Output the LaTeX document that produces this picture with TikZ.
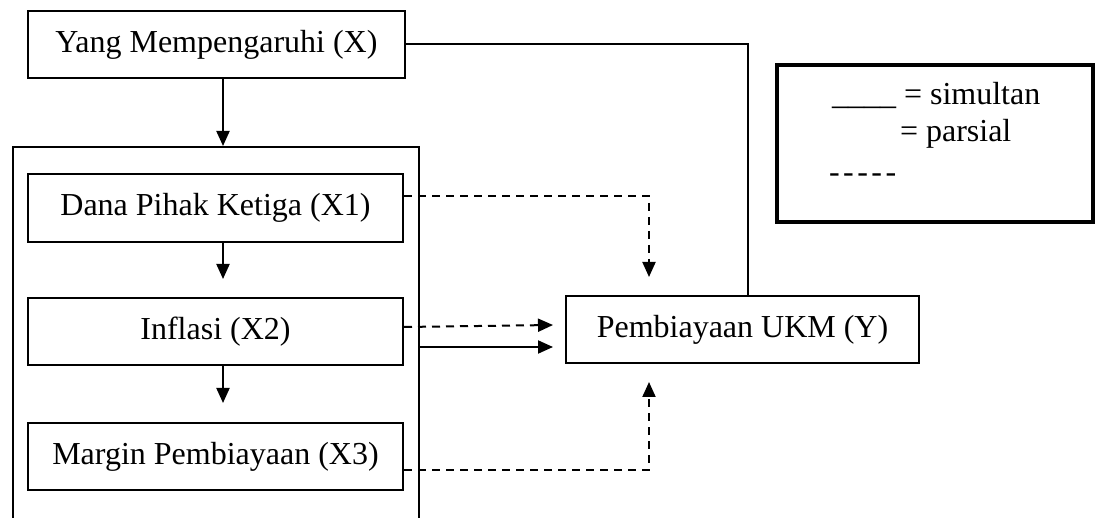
\documentclass[tikz,border=0pt]{standalone}
\usepackage{fontspec}
\setmainfont{Liberation Serif}
\usetikzlibrary{positioning,arrows.meta}
\newcommand{\bigtxt}{\fontsize{32pt}{38.4pt}\selectfont}

\begin{document}
\begin{tikzpicture}[x=1pt,y=-1pt,line width=2pt,>={Triangle[length=15pt,width=13pt]},
        varbox/.style={draw,minimum width=375pt,minimum height=67pt,inner sep=0pt,font=\bigtxt},
        legtxt/.style={anchor=base west,inner sep=0pt,font=\bigtxt},
        dsh/.style={dash pattern=on 8pt off 6pt}]
        \useasboundingbox (0,0) rectangle (1101,518);
        \node[varbox,minimum width=377pt] (topx) at (216.5,44.5) {Yang Mempengaruhi (X)};
        \node[draw,minimum width=406pt,minimum height=375pt,inner sep=0pt] (grp) at (216,334.5) {};
        \node[varbox,minimum height=68pt] (dpk) at (215.5,208) {Dana Pihak Ketiga (X1)};
        \node[varbox,below=54pt of dpk] (inf) {Inflasi (X2)};
        \node[varbox,below=56pt of inf] (mrg) {Margin Pembiayaan (X3)};
        \node[varbox,minimum width=353pt] (pby) at (742.5,329.5) {Pembiayaan UKM (Y)};
        % keterangan
        \node[draw,line width=4pt,minimum width=316pt,minimum height=157pt,inner sep=0pt] (legend) at (935,143.5) {};
        \node[legtxt] (simul) at (831,105) {\_\_\_\_ = simultan};
        \node[legtxt] (pars) at (899,142) {= parsial};
        \node[legtxt] (dashes) at (828,183) {-\kern3.5pt-\kern3.5pt-\kern3.5pt-\kern3.5pt-};
        \coordinate (xdrop) at ([xshift=6.5pt]topx.south);
        \coordinate (solidend) at ([xshift=-12pt,yshift=-17.5pt]pby.west);
        \draw[->] (xdrop) -- (xdrop |- grp.north);
        \draw[->,shorten >=18pt] ([xshift=7.5pt]dpk.south) -- ([xshift=7.5pt]inf.north);
        \draw[->,shorten >=19pt] ([xshift=7.5pt]inf.south) -- ([xshift=7.5pt]mrg.north);
        \draw (topx.east) -| ([xshift=5.5pt]pby.north);
        \draw[dsh,->] ([yshift=12pt]dpk.east) -| ([xshift=-93.5pt,yshift=18pt]pby.north);
        \draw[dsh,->] ([yshift=4.5pt]inf.east) -- ([xshift=-12pt,yshift=4.5pt]pby.west);
        \draw[->] (solidend -| grp.east) -- (solidend);
        \draw[dsh,->] ([yshift=-13.5pt]mrg.east) -| ([xshift=-93.5pt,yshift=-18pt]pby.south);
    \end{tikzpicture}
\end{document}
